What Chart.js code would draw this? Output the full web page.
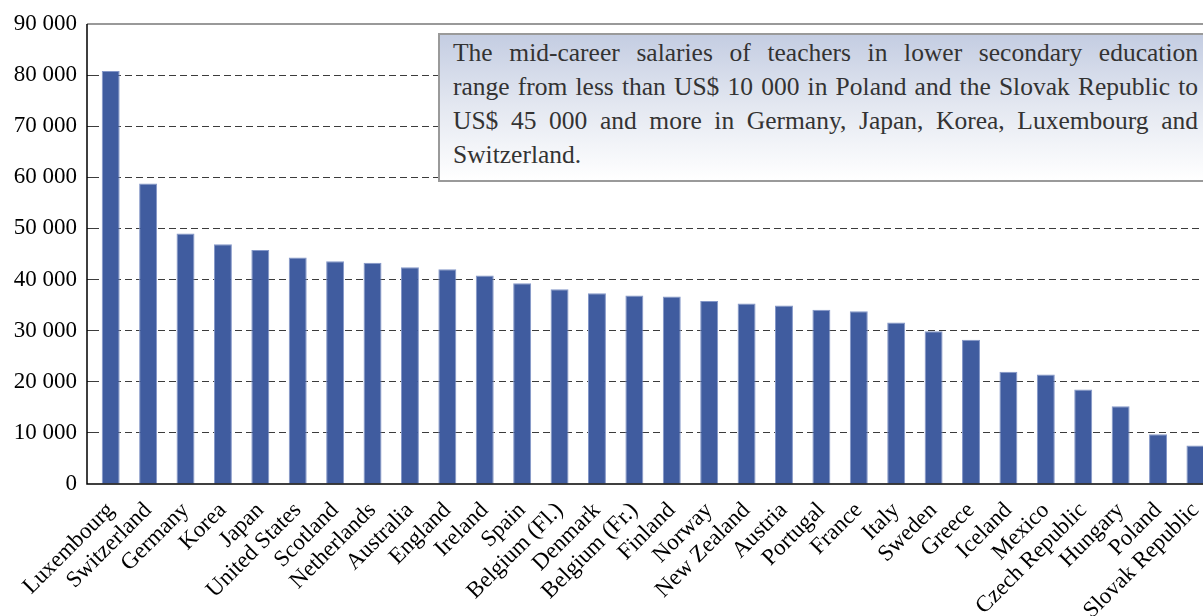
<!DOCTYPE html>
<html>
<head>
<meta charset="utf-8">
<script src="https://cdn.jsdelivr.net/npm/chart.js@4"></script>
<style>
  html, body { margin: 0; padding: 0; background: #fff; overflow: hidden; }
  #wrap { position: relative; width: 1203px; height: 616px; overflow: hidden; }
  #chart { position: absolute; left: 0; top: 0; }
  #note {
    position: absolute; left: 438px; top: 33px; width: 745px; height: 144px;
    padding: 1px 30px 0 13px;
    border: 2px solid #9a9a9a;
    background: linear-gradient(to bottom, #c4cde2 0%, #e4e8f1 50%, #ffffff 100%);
    font-family: "Liberation Serif", serif; font-size: 25.5px; line-height: 34px; color: #333;
  }
  #note div { text-align: justify; text-align-last: justify; white-space: nowrap; }
  #note div.last { text-align-last: left; }
</style>
</head>
<body>
<div id="wrap">
  <canvas id="chart" width="1220" height="616"></canvas>
  <div id="note">
    <div>The mid-career salaries of teachers in lower secondary education</div>
    <div>range from less than US$ 10 000 in Poland and the Slovak Republic to</div>
    <div>US$ 45 000 and more in Germany, Japan, Korea, Luxembourg and</div>
    <div class="last">Switzerland.</div>
  </div>
</div>
<script>
const countries = ["Luxembourg", "Switzerland", "Germany", "Korea", "Japan", "United States",
  "Scotland", "Netherlands", "Australia", "England", "Ireland", "Spain", "Belgium (Fl.)",
  "Denmark", "Belgium (Fr.)", "Finland", "Norway", "New Zealand", "Austria", "Portugal",
  "France", "Italy", "Sweden", "Greece", "Iceland", "Mexico", "Czech Republic", "Hungary",
  "Poland", "Slovak Republic"];
const salaries = [80800, 58800, 49000, 46900, 45800, 44300, 43600, 43300, 42400, 42000,
  40800, 39300, 38100, 37300, 36900, 36700, 35800, 35300, 34900, 34100,
  33800, 31600, 29900, 28200, 21950, 21400, 18500, 15200, 9750, 7540];
const yTicks = [0, 10000, 20000, 30000, 40000, 50000, 60000, 70000, 80000, 90000];

const serif = "'Liberation Serif', serif";

function fmt(v) {
  return String(v).replace(/\B(?=(\d{3})+(?!\d))/g, " ");
}

// axis frame: left line a bit outside the plot, gray top line, black base line
const framePlugin = {
  id: "frame",
  afterDatasetsDraw(chart) {
    const ctx = chart.ctx;
    const y = chart.scales.y;
    const area = chart.chartArea;
    const top = y.getPixelForValue(90000);
    const bottom = y.getPixelForValue(0);
    const left = area.left - 5;
    ctx.save();
    ctx.lineWidth = 1.5;
    ctx.strokeStyle = "#777";
    ctx.beginPath();
    ctx.moveTo(left, top);
    ctx.lineTo(chart.width, top);
    ctx.stroke();
    ctx.strokeStyle = "#000";
    ctx.beginPath();
    ctx.moveTo(left, top);
    ctx.lineTo(left, bottom);
    ctx.lineTo(chart.width, bottom);
    ctx.stroke();
    ctx.restore();
  }
};

new Chart(document.getElementById("chart"), {
  type: "bar",
  data: {
    labels: countries,
    datasets: [{
      label: "Salary",
      data: salaries,
      backgroundColor: "#405c9f",
      borderColor: "#8497c8",
      borderWidth: 1,
      borderSkipped: "bottom",
      barPercentage: 0.48,
      categoryPercentage: 1
    }]
  },
  options: {
    responsive: false,
    animation: false,
    devicePixelRatio: 1,
    layout: { padding: { top: 24, right: 3, left: 0, bottom: 0 } },
    plugins: {
      legend: { display: false },
      tooltip: { enabled: false }
    },
    scales: {
      x: {
        grid: { display: false },
        border: { display: false },
        ticks: {
          autoSkip: false,
          maxRotation: 45,
          minRotation: 45,
          padding: 5,
          color: "#000",
          font: { family: serif, size: 23 }
        },
        afterFit(scale) { scale.height = 132; }
      },
      y: {
        min: 0,
        max: 90000,
        afterBuildTicks(scale) { scale.ticks = yTicks.map(v => ({ value: v })); },
        grid: {
          color: ctx => (ctx.tick.value === 0 || ctx.tick.value === 90000) ? "rgba(0,0,0,0)" : "#3c3c3c",
          lineWidth: 1,
          tickLength: 5,
          tickBorderDash: [7, 4],
          drawTicks: true
        },
        border: { display: false, dash: [7, 4] },
        ticks: {
          padding: 10,
          color: "#000",
          font: { family: serif, size: 23 },
          callback: v => fmt(v)
        },
        afterFit(scale) { scale.width = 92; }
      }
    }
  },
  plugins: [framePlugin]
});
</script>
</body>
</html>
